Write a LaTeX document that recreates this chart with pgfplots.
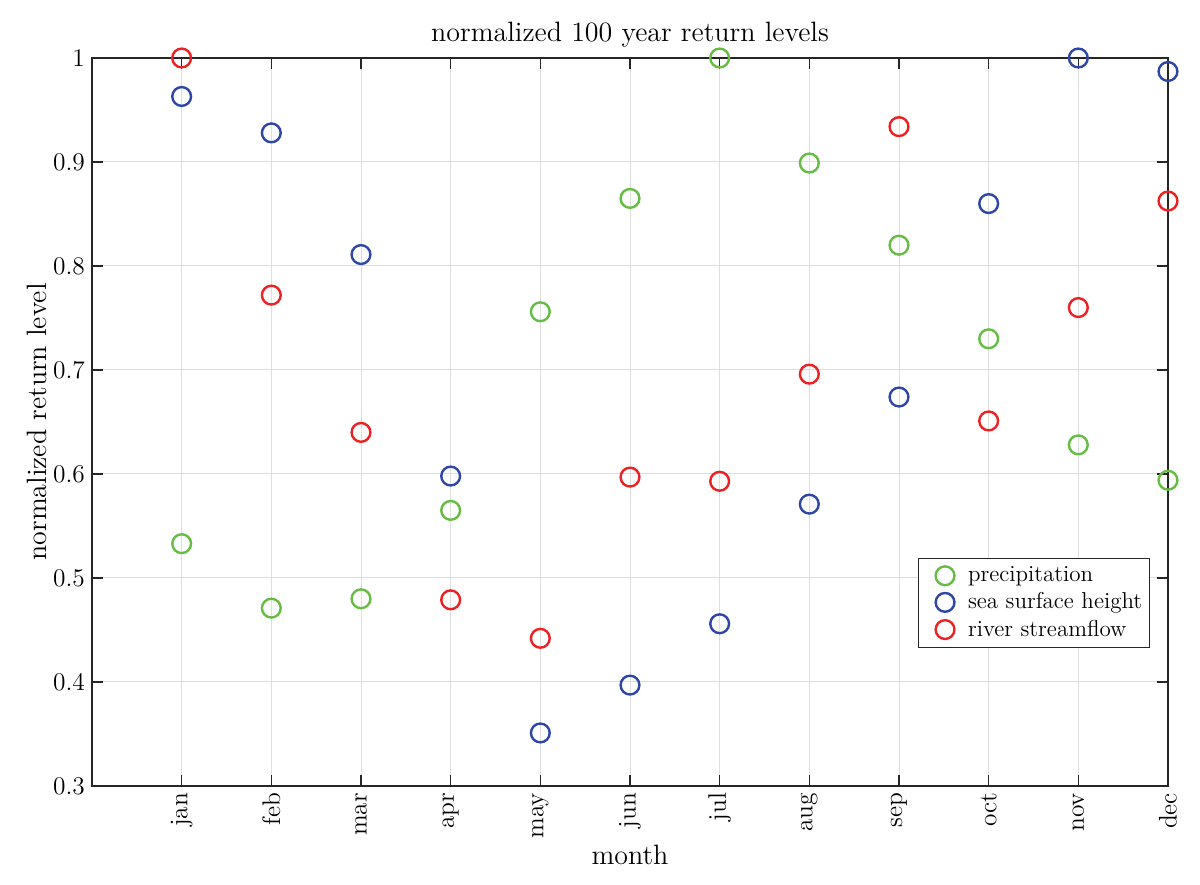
\documentclass[border=0pt]{standalone}
\usepackage{fontspec}
\usepackage{pgfplots}
\pgfplotsset{compat=1.18}
\usetikzlibrary{calc}
\definecolor{cgreen}{RGB}{102,188,68}
\definecolor{cblue}{RGB}{46,70,165}
\definecolor{cred}{RGB}{236,33,36}
\definecolor{axgray}{RGB}{38,38,38}
\newcommand{\ff}{\fontsize{14}{16}\selectfont}
\newcommand{\ft}{\fontsize{12.7}{14}\selectfont}
\newcommand{\fl}{\fontsize{11.5}{13}\selectfont}
\begin{document}
\begin{tikzpicture}
\begin{axis}[
  scale only axis,
  width=538pt, height=364pt,
  xmin=0, xmax=12, ymin=0.3, ymax=1,
  xtick={1,...,12},
  xticklabels={jan,feb,mar,apr,may,jun,jul,aug,sep,oct,nov,dec},
  x tick label style={rotate=90, anchor=east, font=\ft},
  ytick={0.3,0.4,...,1.0},
  y tick label style={font=\ft},
  yticklabel style={/pgf/number format/fixed,/pgf/number format/precision=1,/pgf/number format/assume math mode=true},
  tick pos=both,
  tick align=inside,
  major tick length=5.5pt,
  every tick/.style={axgray, line width=0.6pt},
  axis line style={axgray, line width=0.6pt},
  grid=major,
  major grid style={gray!26, line width=0.5pt},
  title={normalized 100 year return levels},
  title style={font=\ff, yshift=-4pt},
  xlabel={month},
  ylabel={normalized return level},
  label style={font=\ff},
  ylabel style={yshift=-3.5pt},
  xlabel style={yshift=3.5pt},
  legend style={at={(rel axis cs:0.983,0.19)}, anchor=south east, draw=axgray, line width=0.5pt,
    font=\fl, row sep=0pt, inner xsep=1.5pt, inner ysep=2pt},
  legend cell align=left,
  legend image code/.code={\path[draw=none,fill=none] (0pt,0pt) -- (21.5pt,0pt); \draw plot coordinates {(12pt,0pt)};},
  every axis plot/.append style={only marks, mark=o, line width=1.2pt, mark size=4.7pt},
  clip=false,
]
\addplot[cgreen] coordinates {(1,0.533)(2,0.471)(3,0.480)(4,0.565)(5,0.756)(6,0.865)(7,1.0)(8,0.899)(9,0.820)(10,0.730)(11,0.628)(12,0.594)};
\addplot[cblue] coordinates {(1,0.963)(2,0.928)(3,0.811)(4,0.598)(5,0.351)(6,0.397)(7,0.456)(8,0.571)(9,0.674)(10,0.860)(11,1.0)(12,0.987)};
\addplot[cred] coordinates {(1,1.0)(2,0.772)(3,0.640)(4,0.479)(5,0.442)(6,0.597)(7,0.593)(8,0.696)(9,0.934)(10,0.651)(11,0.760)(12,0.8625)};
\legend{precipitation, sea surface height, river streamflow}
\end{axis}
\pgfresetboundingbox
\path[use as bounding box] ($(current axis.south west)+(-46pt,-49.5pt)$) rectangle ($(current axis.north east)+(16pt,29pt)$);
\end{tikzpicture}
\end{document}
